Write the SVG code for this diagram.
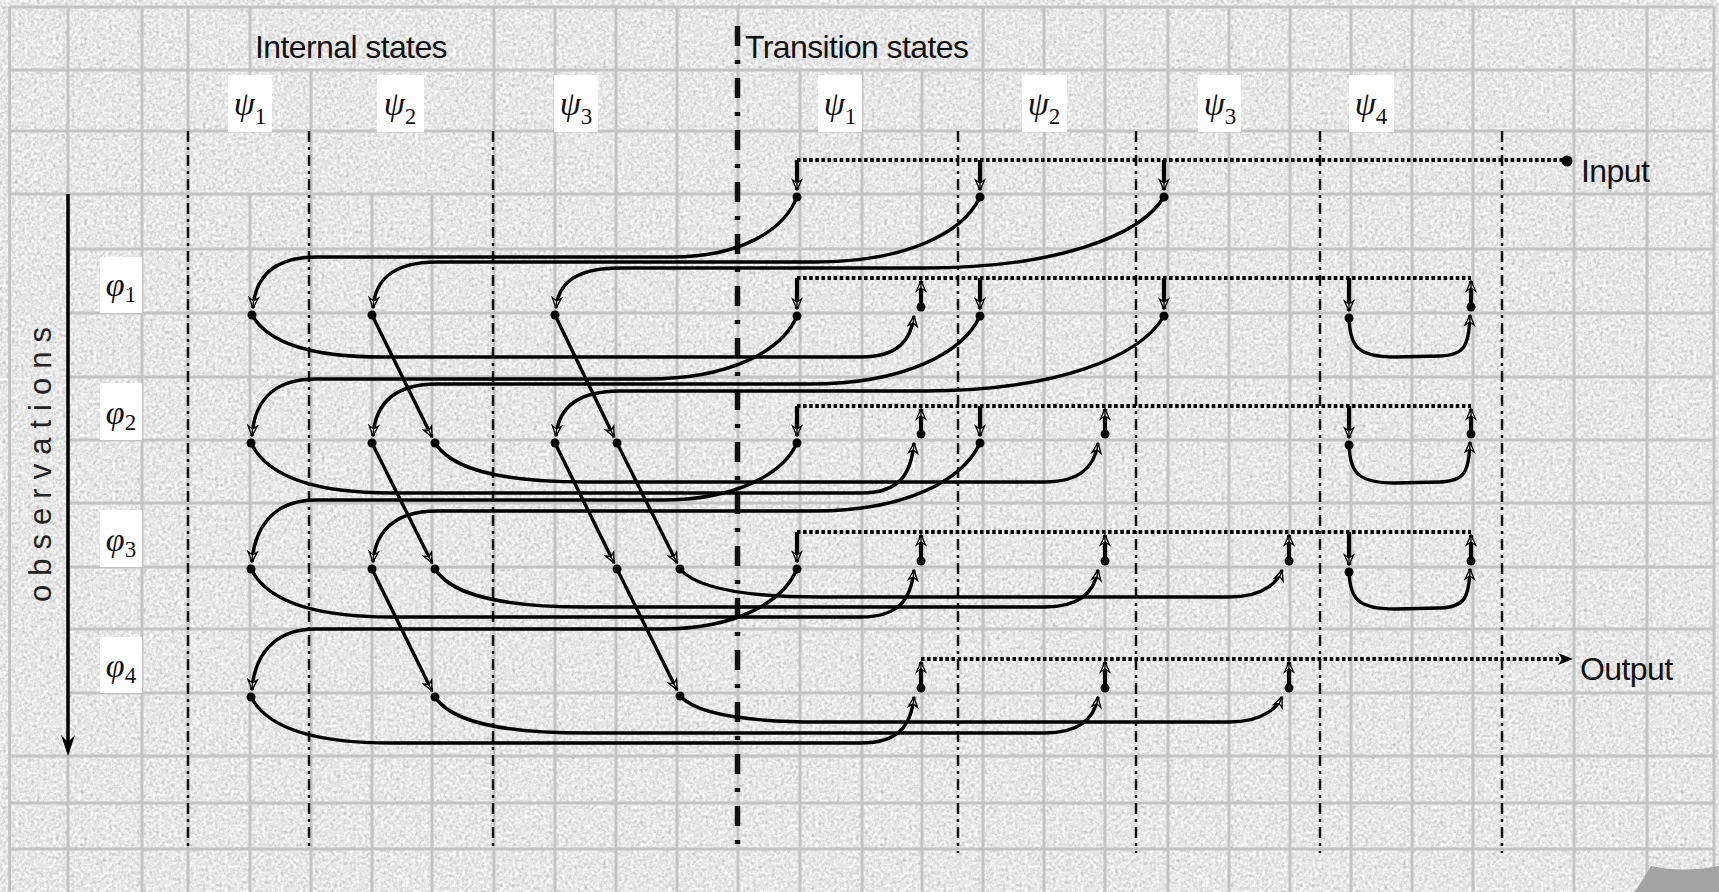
<svg xmlns="http://www.w3.org/2000/svg" width="1719" height="892" viewBox="0 0 1719 892">
<defs>
<filter id="paper" x="0" y="0" width="100%" height="100%" color-interpolation-filters="sRGB">
<feTurbulence type="fractalNoise" baseFrequency="0.32" numOctaves="3" seed="7" result="n"/>
<feColorMatrix in="n" type="matrix" values="0.33 0.33 0.33 0 0  0.33 0.33 0.33 0 0  0.33 0.33 0.33 0 0  0 0 0 0 1"/>
<feComponentTransfer>
<feFuncR type="linear" slope="0.6" intercept="0.61"/>
<feFuncG type="linear" slope="0.6" intercept="0.61"/>
<feFuncB type="linear" slope="0.6" intercept="0.61"/>
</feComponentTransfer>
</filter>
<marker id="ah" viewBox="-12 -6 13 12" refX="0" refY="0" markerWidth="13" markerHeight="12" orient="auto" markerUnits="userSpaceOnUse">
<path d="M0,0 L-10,-4.5 L-7,0 L-10,4.5 Z" fill="#fff" stroke="#000" stroke-width="1.4" stroke-linejoin="miter"/>
<path d="M-7,0 L-1,0" stroke="#000" stroke-width="1.4"/>
</marker>
<style>
.grid{stroke:#c3c3c3;stroke-width:3;fill:none}
.sep{stroke:#111;stroke-width:2.5;stroke-dasharray:11 5 3 5;fill:none}
.sepk{stroke:#111;stroke-width:5.5;stroke-dasharray:20 14 4 14;fill:none}
.bus{stroke:#000;stroke-width:4;stroke-dasharray:3.5 2.6;fill:none}
.drop{stroke:#000;stroke-width:4.2;fill:none;marker-end:url(#ah)}
.c{stroke:#000;stroke-width:3.4;fill:none;marker-end:url(#ah)}
.dot{fill:#000}
.box{fill:#fff}
.t{font-family:"Liberation Sans",Arial,sans-serif;font-size:32px;fill:#111;letter-spacing:-0.6px}
.g{font-family:"Liberation Serif","Times New Roman",serif;font-style:italic;font-size:34px;fill:#111;text-anchor:middle}
.sub{font-style:normal;font-size:23px}
</style>
</defs>

<g id="background">
<rect x="0" y="0" width="1719" height="892" fill="#e6e6e6"/>
<rect x="0" y="0" width="1719" height="892" filter="url(#paper)"/>
<path class="grid" d="M9.6,7V892 M68,7V892 M142,7V892 M188,7V892 M250,7V131 M250,194V892 M311,70V892 M372,194V892 M432,194V892 M494,7V892 M555,7V892 M616,7V892 M677,7V892 M738,7V892 M800,70V892 M862,70V892 M922,70V892 M983,7V892 M1044,7V892 M1105,7V892 M1168,7V892 M1229,7V892 M1290,7V892 M1351,7V892 M1412,7V892 M1473,7V892 M1574,7V892 M1647,7V892 M1714,7V892"/>
<path class="grid" d="M9.6,7H1714 M9.6,70H1714 M9.6,131H1714 M9.6,194H1714 M68,249H1714 M68,313H1714 M68,377H1714 M68,440H1714 M68,503H1714 M68,567H1714 M68,629H1714 M68,693H1714 M9.6,756H1714 M9.6,803H1714 M9.6,849H1714"/>
<path d="M1635,892 L1651,866 Q1682,873 1719,866 L1719,892 Z" fill="#a3a3a3"/>
</g>

<g id="separators">
<path class="sep" d="M188,131V849 M309,131V849 M493,131V849 M958,131V853 M1136,131V853 M1320,131V853 M1502,131V853"/>
<path class="sepk" d="M737.5,26V848"/>
</g>

<g id="headers">
<text class="t" x="255" y="58">Internal states</text>
<text class="t" x="745" y="58">Transition states</text>
<text class="t" x="1581" y="182">Input</text>
<text class="t" x="1580" y="680">Output</text>
<text transform="translate(51,460) rotate(-90)" x="0" y="0" text-anchor="middle" font-family="Liberation Sans, Arial, sans-serif" font-size="31" letter-spacing="9" fill="#222">observations</text>
</g>

<g id="label-int-psi1"><rect class="box" x="228" y="75" width="44" height="57"/><text class="g" x="250" y="115">ψ<tspan class="sub" dy="9">1</tspan></text></g>
<g id="label-int-psi2"><rect class="box" x="377" y="75" width="47" height="57"/><text class="g" x="400" y="115">ψ<tspan class="sub" dy="9">2</tspan></text></g>
<g id="label-int-psi3"><rect class="box" x="554" y="75" width="44" height="57"/><text class="g" x="576" y="115">ψ<tspan class="sub" dy="9">3</tspan></text></g>
<g id="label-tr-psi1"><rect class="box" x="818" y="75" width="44" height="57"/><text class="g" x="840" y="115">ψ<tspan class="sub" dy="9">1</tspan></text></g>
<g id="label-tr-psi2"><rect class="box" x="1022" y="75" width="45" height="57"/><text class="g" x="1044" y="115">ψ<tspan class="sub" dy="9">2</tspan></text></g>
<g id="label-tr-psi3"><rect class="box" x="1198" y="75" width="43" height="57"/><text class="g" x="1220" y="115">ψ<tspan class="sub" dy="9">3</tspan></text></g>
<g id="label-tr-psi4"><rect class="box" x="1349" y="75" width="45" height="57"/><text class="g" x="1371" y="115">ψ<tspan class="sub" dy="9">4</tspan></text></g>
<g id="label-phi1"><rect class="box" x="100" y="257" width="42" height="56"/><text class="g" x="121" y="296">φ<tspan class="sub" dy="6">1</tspan></text></g>
<g id="label-phi2"><rect class="box" x="100" y="383" width="42" height="57"/><text class="g" x="121" y="424">φ<tspan class="sub" dy="6">2</tspan></text></g>
<g id="label-phi3"><rect class="box" x="100" y="510" width="42" height="57"/><text class="g" x="121" y="551">φ<tspan class="sub" dy="6">3</tspan></text></g>
<g id="label-phi4"><rect class="box" x="100" y="637" width="42" height="56"/><text class="g" x="121" y="677">φ<tspan class="sub" dy="6">4</tspan></text></g>

<g id="connectors">
<path d="M68,194V742" stroke="#000" stroke-width="3.5" fill="none"/>
<path d="M68,756 L61,735 L68,742 L75,735 Z" fill="#000"/>
<path class="bus" d="M797,160H1567 M797,278H1471 M797,406H1471 M797,532H1471 M921,659H1562"/>
<path d="M1573,659 L1558,653 L1562,659 L1558,665 Z" fill="#000"/>
<path class="drop" d="M797,160V190"/>
<path class="drop" d="M980,160V190"/>
<path class="drop" d="M1164,160V190"/>
<path class="drop" d="M797,278V309"/>
<path class="drop" d="M980,278V309"/>
<path class="drop" d="M1164,278V309"/>
<path class="drop" d="M1349,278V311"/>
<path class="drop" d="M797,406V436"/>
<path class="drop" d="M980,406V436"/>
<path class="drop" d="M1349,406V438"/>
<path class="drop" d="M797,532V562"/>
<path class="drop" d="M1349,532V565"/>
<path class="drop" d="M921,307V281"/>
<path class="drop" d="M1471,307V281"/>
<path class="drop" d="M921,434V409"/>
<path class="drop" d="M1105,434V409"/>
<path class="drop" d="M1471,434V409"/>
<path class="drop" d="M921,561V535"/>
<path class="drop" d="M1105,561V535"/>
<path class="drop" d="M1289,561V535"/>
<path class="drop" d="M1471,561V535"/>
<path class="drop" d="M921,688V662"/>
<path class="drop" d="M1105,688V662"/>
<path class="drop" d="M1289,688V662"/>
<path class="c" d="M797,197 C784,230 741,257 672,257 L317,257 C270,257 255,280 253,308"/>
<path class="c" d="M980,197 C963,233 906,262 815,262 L437,262 C390,262 375,282 373,308"/>
<path class="c" d="M1164,197 C1140,236 1056,268 924,268 L620,268 C572,268 558,286 556,308"/>
<path class="c" d="M797,316 C782,351 730,379 647,379 L316,379 C270,379 254,405 252,436"/>
<path class="c" d="M980,316 C963,353 904,384 810,384 L437,384 C390,384 375,408 373,436"/>
<path class="c" d="M1164,316 C1140,357 1056,391 924,391 L620,391 C572,391 558,412 556,436"/>
<path class="c" d="M797,443 C783,474 736,500 662,500 L316,500 C270,500 254,532 252,562"/>
<path class="c" d="M980,443 C963,480 906,511 815,511 L437,511 C390,511 375,536 373,562"/>
<path class="c" d="M797,569 C783,602 736,629 662,629 L316,629 C270,629 254,660 252,690"/>
<path class="c" d="M252,315 C264,336 297,357 382,357 L861,357 C899,357 911,339 914,316"/>
<path class="c" d="M251,443 C263,468 296,493 391,493 L861,493 C899,493 911,475 914,443"/>
<path class="c" d="M435,443 C447,462 480,482 585,482 L1045,482 C1083,482 1095,464 1098,443"/>
<path class="c" d="M251,569 C263,593 296,617 391,617 L861,617 C899,617 911,599 914,570"/>
<path class="c" d="M435,569 C447,588 480,607 585,607 L1045,607 C1083,607 1095,589 1098,570"/>
<path class="c" d="M680,569 C692,583 725,597 820,597 L1229,597 C1267,597 1279,579 1282,570"/>
<path class="c" d="M251,697 C263,720 296,743 391,743 L861,743 C899,743 911,725 914,697"/>
<path class="c" d="M435,697 C447,715 480,733 585,733 L1045,733 C1083,733 1095,715 1098,697"/>
<path class="c" d="M680,696 C692,709 725,722 820,722 L1229,722 C1267,722 1279,704 1282,697"/>
<path class="c" d="M1349,318 C1350,346 1357,357 1395,357 L1440,356 C1464,355 1469,347 1470,315"/>
<path class="c" d="M1349,445 C1350,472 1357,483 1395,483 L1440,482 C1464,481 1469,473 1470,442"/>
<path class="c" d="M1349,572 C1350,598 1357,609 1395,609 L1440,608 C1464,607 1469,599 1470,569"/>
<path class="c" d="M372,315 L432,437"/>
<path class="c" d="M372,443 L432,563"/>
<path class="c" d="M372,569 L432,691"/>
<path class="c" d="M555,315 L614,437"/>
<path class="c" d="M555,443 L614,563"/>
<path class="c" d="M617,443 L677,563"/>
<path class="c" d="M617,569 L677,690"/>
<circle cx="1567" cy="161" r="5.5" fill="#000"/>
</g>

<g id="node-in1"><circle class="dot" cx="797" cy="197" r="4.5"/></g>
<g id="node-in2"><circle class="dot" cx="980" cy="197" r="4.5"/></g>
<g id="node-in3"><circle class="dot" cx="1164" cy="197" r="4.5"/></g>
<g id="node-t1-1"><circle class="dot" cx="797" cy="316" r="4.5"/></g>
<g id="node-t1-2"><circle class="dot" cx="980" cy="316" r="4.5"/></g>
<g id="node-t1-3"><circle class="dot" cx="1164" cy="316" r="4.5"/></g>
<g id="node-t1-4"><circle class="dot" cx="1349" cy="318" r="4.5"/></g>
<g id="node-t2-1"><circle class="dot" cx="797" cy="443" r="4.5"/></g>
<g id="node-t2-2"><circle class="dot" cx="980" cy="443" r="4.5"/></g>
<g id="node-t2-4"><circle class="dot" cx="1349" cy="445" r="4.5"/></g>
<g id="node-t3-1"><circle class="dot" cx="797" cy="569" r="4.5"/></g>
<g id="node-t3-4"><circle class="dot" cx="1349" cy="572" r="4.5"/></g>
<g id="node-u1-1"><circle class="dot" cx="921" cy="307" r="4.5"/></g>
<g id="node-u1-4"><circle class="dot" cx="1471" cy="307" r="4.5"/></g>
<g id="node-u2-1"><circle class="dot" cx="921" cy="434" r="4.5"/></g>
<g id="node-u2-2"><circle class="dot" cx="1105" cy="434" r="4.5"/></g>
<g id="node-u2-4"><circle class="dot" cx="1471" cy="434" r="4.5"/></g>
<g id="node-u3-1"><circle class="dot" cx="921" cy="561" r="4.5"/></g>
<g id="node-u3-2"><circle class="dot" cx="1105" cy="561" r="4.5"/></g>
<g id="node-u3-3"><circle class="dot" cx="1289" cy="561" r="4.5"/></g>
<g id="node-u3-4"><circle class="dot" cx="1471" cy="561" r="4.5"/></g>
<g id="node-u4-1"><circle class="dot" cx="921" cy="688" r="4.5"/></g>
<g id="node-u4-2"><circle class="dot" cx="1105" cy="688" r="4.5"/></g>
<g id="node-u4-3"><circle class="dot" cx="1289" cy="688" r="4.5"/></g>
<g id="node-i1-a"><circle class="dot" cx="252" cy="315" r="4.5"/></g>
<g id="node-i1-b"><circle class="dot" cx="372" cy="315" r="4.5"/></g>
<g id="node-i1-c"><circle class="dot" cx="555" cy="315" r="4.5"/></g>
<g id="node-i2-a"><circle class="dot" cx="251" cy="443" r="4.5"/></g>
<g id="node-i2-b"><circle class="dot" cx="372" cy="443" r="4.5"/></g>
<g id="node-i2-b2"><circle class="dot" cx="435" cy="443" r="4.5"/></g>
<g id="node-i2-c"><circle class="dot" cx="555" cy="443" r="4.5"/></g>
<g id="node-i2-c2"><circle class="dot" cx="617" cy="443" r="4.5"/></g>
<g id="node-i3-a"><circle class="dot" cx="251" cy="569" r="4.5"/></g>
<g id="node-i3-b"><circle class="dot" cx="372" cy="569" r="4.5"/></g>
<g id="node-i3-b2"><circle class="dot" cx="435" cy="569" r="4.5"/></g>
<g id="node-i3-c2"><circle class="dot" cx="617" cy="569" r="4.5"/></g>
<g id="node-i3-c3"><circle class="dot" cx="680" cy="569" r="4.5"/></g>
<g id="node-i4-a"><circle class="dot" cx="251" cy="697" r="4.5"/></g>
<g id="node-i4-b2"><circle class="dot" cx="435" cy="697" r="4.5"/></g>
<g id="node-i4-c3"><circle class="dot" cx="680" cy="696" r="4.5"/></g>
</svg>
